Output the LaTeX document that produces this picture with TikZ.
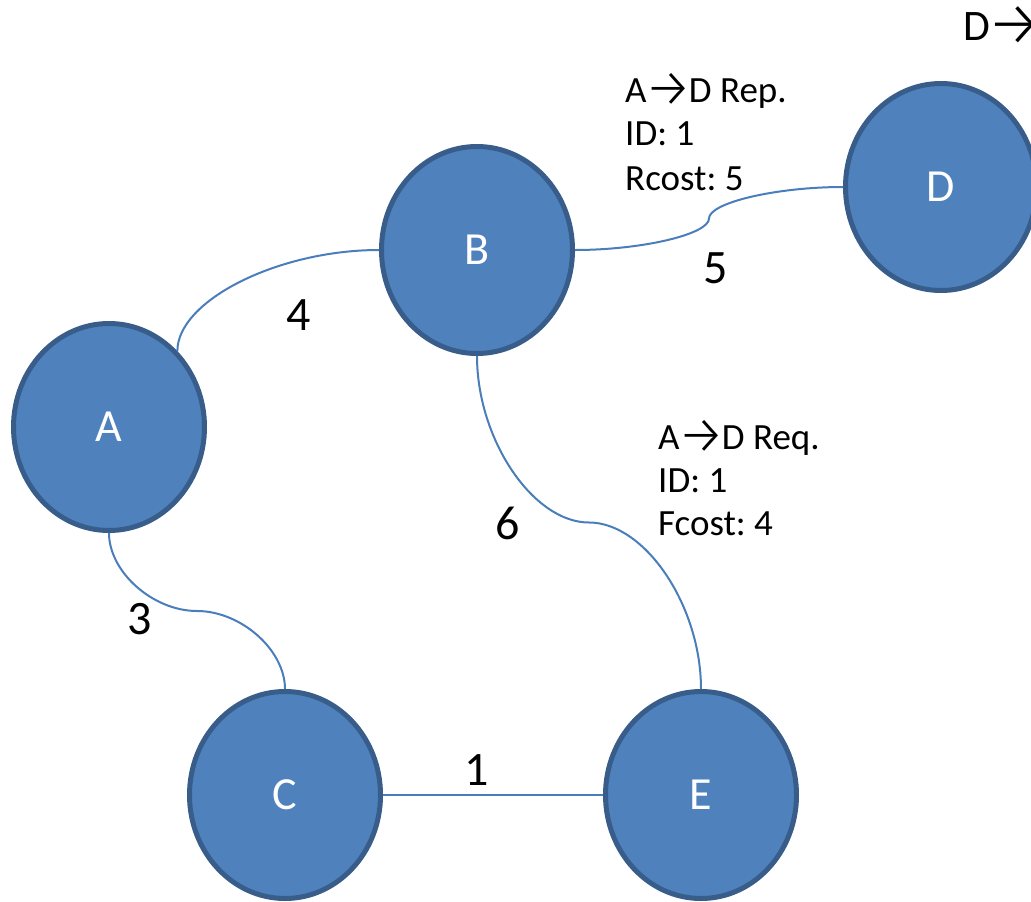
\documentclass[tikz,border=0pt]{standalone}
\usepackage{fontspec}
\setmainfont{Carlito}
\newfontfamily\arrowfont{Fira Sans Light}
% open-headed arrow sized to the cap height, side bearings trimmed
\newcommand{\rarr}{\hspace{-0.07em}\raisebox{-0.13em}{\scalebox{1.45}{\arrowfont →}}\hspace{-0.09em}}
\frenchspacing
\usetikzlibrary{shapes.geometric,calc}
\definecolor{nodefill}{HTML}{4F81BD}
\definecolor{nodeline}{HTML}{385D8A}
\definecolor{edgecol}{HTML}{4A7EBB}
\begin{document}
\begin{tikzpicture}[x=1pt,y=-1pt,
  vertex/.style={ellipse, draw=nodeline, fill=nodefill, line width=5pt,
    minimum width=191pt, minimum height=207pt, inner sep=0pt,
    text=white, font=\fontsize{46}{55}\selectfont},
  edge/.style={draw=edgecol, line width=2pt},
  weight/.style={font=\fontsize{48}{58}\selectfont, inner sep=0pt},
  note/.style={font=\fontsize{37}{44}\selectfont, anchor=base west, inner sep=0pt}]
\useasboundingbox (0,0) rectangle (1031,902);
\clip (0,0) rectangle (1031,902);

% network nodes
\node[vertex] (A) at (109,427) {A};
\node[vertex] (B) at (477,250) {B};
\node[vertex] (C) at (285,795) {C};
\node[vertex] (D) at (941,187) {D};
\node[vertex] (E) at (701,795) {E};

% A -- B : single bend
\coordinate (abM) at ($(A.48)!0.5!(B.west)$);
\draw[edge] (A.48) .. controls (A.48 |- abM) and (abM |- B.west) .. (B.west);

% B -- D : horizontal S-bend
\coordinate (bdM) at ($(B.east)!0.5!(D.west)$);
\coordinate (bd1) at ($(B.east)!0.5!(bdM)$);
\coordinate (bd2) at ($(bdM)!0.5!(D.west)$);
\draw[edge] (B.east) .. controls (bd1 |- B.east) and (bdM |- bd1) .. (bdM)
  .. controls (bdM |- bd2) and (bd2 |- D.west) .. (D.west);

% A -- C : vertical S-bend
\coordinate (acM) at ($(A.south)!0.5!(C.north)$);
\coordinate (ac1) at ($(A.south)!0.5!(acM)$);
\coordinate (ac2) at ($(acM)!0.5!(C.north)$);
\draw[edge] (A.south) .. controls (A.south |- ac1) and (ac1 |- acM) .. (acM)
  .. controls (ac2 |- acM) and (C.north |- ac2) .. (C.north);

% B -- E : vertical S-bend
\coordinate (beM) at ($(B.south)!0.5!(E.north)$);
\coordinate (be1) at ($(B.south)!0.5!(beM)$);
\coordinate (be2) at ($(beM)!0.5!(E.north)$);
\draw[edge] (B.south) .. controls (B.south |- be1) and (be1 |- beM) .. (beM)
  .. controls (be2 |- beM) and (E.north |- be2) .. (E.north);

% C -- E : straight
\draw[edge] (C.east) -- (E.west);

% link costs
\node[weight] (w4) at (299,315) {4};
\node[weight] (w5) at (716,268) {5};
\node[weight] (w3) at (140,619) {3};
\node[weight] (w6) at (508,523) {6};
\node[weight] (w1) at (477,770) {1};

% reply message
\node[note] (rep1) at (625,102) {A\rarr D Rep.};
\node[note] (rep2) at (625,145) {ID: 1};
\node[note] (rep3) at (625,190) {Rcost: 5};

% request message
\node[note] (req1) at (658,449) {A\rarr D Req.};
\node[note] (req2) at (658,492) {ID: 1};
\node[note] (req3) at (658,535) {Fcost: 4};

% route heading
\node[note, font=\fontsize{43.5}{52}\selectfont] (route) at (963,40) {D\rarr};
\end{tikzpicture}
\end{document}
